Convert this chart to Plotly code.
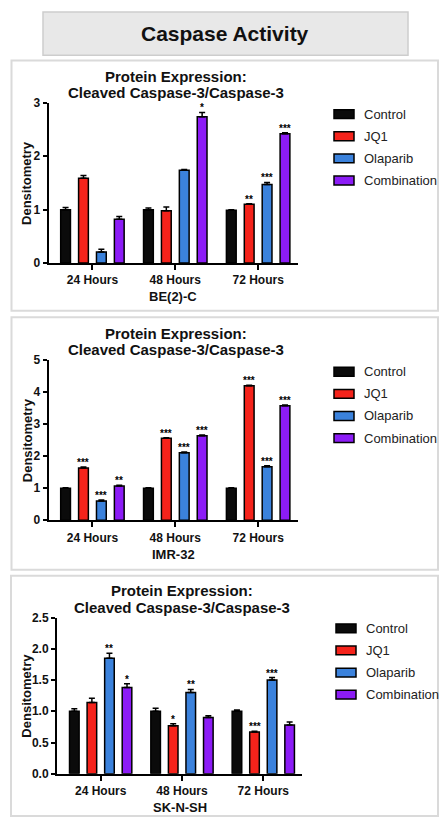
import plotly.graph_objects as go

W, H = 440, 828
FONT = "Liberation Sans, Arial, Helvetica, sans-serif"

# ---------------- data ----------------
categories = ["24 Hours", "48 Hours", "72 Hours"]
series_names = ["Control", "JQ1", "Olaparib", "Combination"]
series_colors = ["#0b0b0b", "#f5231b", "#3b82dc", "#8c1cf6"]

main_title = "Caspase Activity"
panel_title_line1 = "Protein Expression:"
panel_title_line2 = "Cleaved Caspase-3/Caspase-3"
y_title = "Densitometry"
cell_lines = ["BE(2)-C", "IMR-32", "SK-N-SH"]

# BE(2)-C
be2c_control = [1.00, 1.00, 0.99]
be2c_jq1 = [1.59, 0.98, 1.10]
be2c_olaparib = [0.21, 1.74, 1.47]
be2c_combination = [0.82, 2.74, 2.42]
be2c_control_err = [0.04, 0.03, 0.01]
be2c_jq1_err = [0.05, 0.07, 0.01]
be2c_olaparib_err = [0.05, 0.01, 0.04]
be2c_combination_err = [0.05, 0.08, 0.02]
be2c_control_sig = ["", "", ""]
be2c_jq1_sig = ["", "", "**"]
be2c_olaparib_sig = ["", "", "***"]
be2c_combination_sig = ["", "*", "***"]

# IMR-32
imr32_control = [1.00, 1.00, 1.00]
imr32_jq1 = [1.63, 2.56, 4.20]
imr32_olaparib = [0.60, 2.11, 1.67]
imr32_combination = [1.07, 2.64, 3.58]
imr32_control_err = [0.01, 0.01, 0.01]
imr32_jq1_err = [0.03, 0.02, 0.02]
imr32_olaparib_err = [0.03, 0.02, 0.03]
imr32_combination_err = [0.02, 0.02, 0.02]
imr32_control_sig = ["", "", ""]
imr32_jq1_sig = ["***", "***", "***"]
imr32_olaparib_sig = ["***", "***", "***"]
imr32_combination_sig = ["**", "***", "***"]

# SK-N-SH
sknsh_control = [1.00, 1.00, 1.00]
sknsh_jq1 = [1.14, 0.77, 0.67]
sknsh_olaparib = [1.85, 1.30, 1.50]
sknsh_combination = [1.38, 0.90, 0.78]
sknsh_control_err = [0.04, 0.05, 0.02]
sknsh_jq1_err = [0.07, 0.03, 0.01]
sknsh_olaparib_err = [0.08, 0.05, 0.04]
sknsh_combination_err = [0.06, 0.03, 0.05]
sknsh_control_sig = ["", "", ""]
sknsh_jq1_sig = ["", "*", "***"]
sknsh_olaparib_sig = ["**", "**", "***"]
sknsh_combination_sig = ["*", "", ""]

y_ticks_1 = [0, 1, 2, 3]
y_ticks_2 = [0, 1, 2, 3, 4, 5]
y_ticks_3 = [0.0, 0.5, 1.0, 1.5, 2.0, 2.5]

panel_data = [
    dict(vals=[be2c_control, be2c_jq1, be2c_olaparib, be2c_combination],
         errs=[be2c_control_err, be2c_jq1_err, be2c_olaparib_err, be2c_combination_err],
         sigs=[be2c_control_sig, be2c_jq1_sig, be2c_olaparib_sig, be2c_combination_sig],
         yticks=y_ticks_1, yfmt="d", label=cell_lines[0]),
    dict(vals=[imr32_control, imr32_jq1, imr32_olaparib, imr32_combination],
         errs=[imr32_control_err, imr32_jq1_err, imr32_olaparib_err, imr32_combination_err],
         sigs=[imr32_control_sig, imr32_jq1_sig, imr32_olaparib_sig, imr32_combination_sig],
         yticks=y_ticks_2, yfmt="d", label=cell_lines[1]),
    dict(vals=[sknsh_control, sknsh_jq1, sknsh_olaparib, sknsh_combination],
         errs=[sknsh_control_err, sknsh_jq1_err, sknsh_olaparib_err, sknsh_combination_err],
         sigs=[sknsh_control_sig, sknsh_jq1_sig, sknsh_olaparib_sig, sknsh_combination_sig],
         yticks=y_ticks_3, yfmt=".1f", label=cell_lines[2]),
]

# ---------------- geometry (pixels, styling only) ----------------
panel_geom = [
    dict(box=(11.5, 54.5, 438, 309), ax=(48.5, 297.5), ay=(260.5, 97.5), xr=(-0.53, 2.475),
         t1=71, t2=87, tx=176, xtitle=294, ytx=27, leg_x=334, leg_y=109),
    dict(box=(11.5, 315.5, 438, 572.5), ax=(48.5, 297.5), ay=(522, 359.3), xr=(-0.53, 2.475),
         t1=332, t2=348, tx=176, xtitle=556.5, ytx=27, leg_x=334, leg_y=371),
    dict(box=(11, 578.5, 438, 823), ax=(57, 302), ay=(780, 621), xr=(-0.537, 2.476),
         t1=594, t2=611, tx=182, xtitle=814, ytx=27, leg_x=336, leg_y=632),
]
bar_step = 0.216
bar_width = 0.118
leg_row = 22.5


def px(x):
    return x / W


def py(y):
    return 1 - y / H


fig = go.Figure()
shapes = []
annotations = []

# main title box
shapes.append(dict(type="rect", xref="paper", yref="paper", layer="below",
                   x0=px(43), x1=px(408), y0=py(49), y1=py(5),
                   fillcolor="#e8e8e8", line=dict(color="#cdcdcd", width=1.5)))
annotations.append(dict(text="<b>" + main_title + "</b>", xref="paper", yref="paper",
                        x=px(225.5), y=py(27), xanchor="center", yanchor="middle",
                        showarrow=False, font=dict(family=FONT, size=21, color="#111")))

for p, (pd_, g) in enumerate(zip(panel_data, panel_geom)):
    n = "" if p == 0 else str(p + 1)
    xa, ya = "x" + n, "y" + n
    bx0, by0, bx1, by1 = g["box"]
    shapes.append(dict(type="rect", xref="paper", yref="paper", layer="below",
                       x0=px(bx0), x1=px(bx1), y0=py(by1), y1=py(by0),
                       fillcolor="white", line=dict(color="#dadada", width=2)))

    for k in range(4):
        off = (k - 1.5) * bar_step
        xs = [i + off for i in range(len(categories))]
        fig.add_trace(go.Bar(
            x=xs, y=pd_["vals"][k], width=bar_width, name=series_names[k],
            marker=dict(color=series_colors[k], line=dict(color="black", width=1.5)),
            error_y=dict(type="data", array=pd_["errs"][k], arrayminus=[0] * len(xs),
                         symmetric=False, color="black", thickness=1.5, width=3),
            xaxis=xa, yaxis=ya, showlegend=False, hoverinfo="skip"))
        for i, s in enumerate(pd_["sigs"][k]):
            if s:
                annotations.append(dict(text="<b>" + s + "</b>", x=xs[i],
                                        y=pd_["vals"][k][i] + pd_["errs"][k][i],
                                        xref=xa, yref=ya, xanchor="center", yanchor="bottom",
                                        yshift=-3, showarrow=False,
                                        font=dict(family=FONT, size=10, color="black")))

    ax0, ax1 = g["ax"]
    ay0, ay1 = g["ay"]
    xkey = "xaxis" + n
    ykey = "yaxis" + n
    yt = pd_["yticks"]
    fig.layout[xkey] = dict(
        domain=[px(ax0), px(ax1)], range=list(g["xr"]), anchor=ya,
        tickmode="array", tickvals=list(range(len(categories))), ticktext=categories,
        showline=True, linecolor="black", linewidth=2, ticks="outside", ticklen=5,
        tickwidth=2, tickcolor="black", showgrid=False, zeroline=False, fixedrange=True,
        tickfont=dict(family=FONT, size=12, color="#111", weight="bold"))
    fig.layout[ykey] = dict(
        domain=[py(ay0), py(ay1)], range=[yt[0], yt[-1]], anchor=xa,
        tickmode="array", tickvals=yt, tickformat=pd_["yfmt"],
        showline=True, linecolor="black", linewidth=2, ticks="outside", ticklen=4,
        tickwidth=2, tickcolor="black", showgrid=False, zeroline=False, fixedrange=True,
        tickfont=dict(family=FONT, size=12, color="#111", weight="bold"))

    # titles
    annotations.append(dict(text="<b>" + panel_title_line1 + "</b>", xref="paper", yref="paper",
                            x=px(g["tx"]), y=py(g["t1"]), xanchor="center", yanchor="middle",
                            showarrow=False, font=dict(family=FONT, size=15, color="#111")))
    annotations.append(dict(text="<b>" + panel_title_line2 + "</b>", xref="paper", yref="paper",
                            x=px(g["tx"]), y=py(g["t2"]), xanchor="center", yanchor="middle",
                            showarrow=False, font=dict(family=FONT, size=15, color="#111")))
    annotations.append(dict(text="<b>" + y_title + "</b>", xref="paper", yref="paper",
                            x=px(g["ytx"]), y=py((ay0 + ay1) / 2), xanchor="center",
                            yanchor="middle", textangle=-90, showarrow=False,
                            font=dict(family=FONT, size=13, color="#111")))
    annotations.append(dict(text="<b>" + pd_["label"] + "</b>", xref="paper", yref="paper",
                            x=px((ax0 + ax1) / 2), y=py(g["xtitle"]), xanchor="center",
                            yanchor="middle", showarrow=False,
                            font=dict(family=FONT, size=13, color="#111")))

    # legend
    for k in range(4):
        cy = g["leg_y"] + k * leg_row
        shapes.append(dict(type="rect", xref="paper", yref="paper",
                           x0=px(g["leg_x"]), x1=px(g["leg_x"] + 20),
                           y0=py(cy + 4.5), y1=py(cy - 4.5),
                           fillcolor=series_colors[k], line=dict(color="black", width=1.5)))
        annotations.append(dict(text=series_names[k], xref="paper", yref="paper",
                                x=px(g["leg_x"] + 28), y=py(cy), xanchor="left",
                                yanchor="middle", showarrow=False,
                                font=dict(family=FONT, size=13, color="#222")))

fig.update_layout(
    width=W, height=H, margin=dict(l=0, r=0, t=0, b=0),
    paper_bgcolor="white", plot_bgcolor="rgba(0,0,0,0)",
    barmode="overlay", showlegend=False,
    shapes=shapes, annotations=annotations,
    font=dict(family=FONT),
)

fig.write_html(
    "out.html",
    config={"displayModeBar": False},
    post_script=("document.documentElement.style.margin='0';"
                 "document.body.style.margin='0';"
                 "document.body.style.padding='0';"
                 "document.body.style.overflow='hidden';"),
)
